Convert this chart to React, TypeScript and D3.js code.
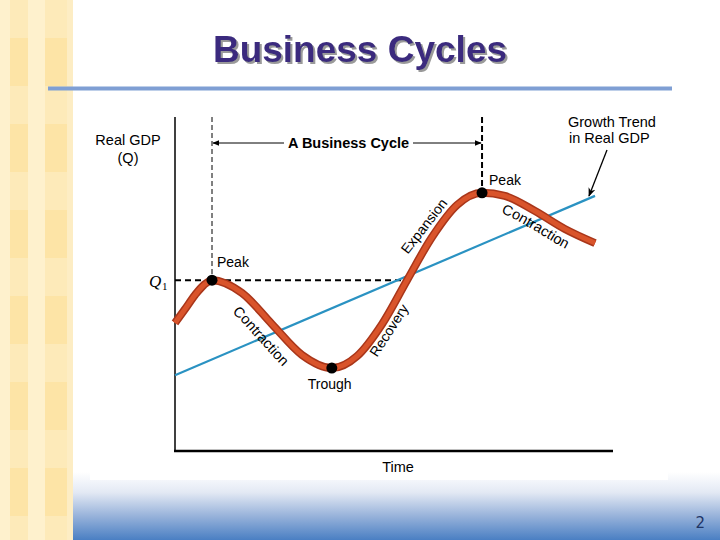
import React from "react";
import * as d3 from "d3";

// ---- Data (time units 0..100, real GDP units 0..100) ----
const curveT = [0, 2.28, 4.57, 6.62, 8.45, 15.3, 22.1, 29.0, 35.8, 41.6, 47.3, 52.95, 58.7, 64.4, 70.1, 75.3, 82.2, 89.0, 95.9];
const curveQ = [38.3, 42.4, 46.6, 49.6, 51.0, 47.2, 38.0, 28.8, 24.9, 28.5, 38.0, 50.9, 63.8, 73.3, 76.9, 76.0, 71.5, 66.2, 62.0];
const trendT = [0, 95.9];
const trendQ = [22.8, 76.0];
const turnLabels = ["Peak", "Trough", "Peak"];
const turnT = [8.45, 35.8, 70.1];
const turnQ = [51.0, 24.9, 76.9];
const q1Value = 51.0;
const q1CrossT = 52.9;

const W = 720, H = 540;
const FONT = "'Liberation Sans', Arial, sans-serif";

export default function App() {
  const x = d3.scaleLinear().domain([0, 100]).range([175, 613]);
  const y = d3.scaleLinear().domain([0, 100]).range([452, 115]);
  const pts = curveT.map((t, i) => ({ t, q: curveQ[i] }));
  const line = d3.line<{ t: number; q: number }>().x(d => x(d.t)).y(d => y(d.q)).curve(d3.curveMonotoneX);
  const cyclePath = line(pts) || "";
  const leftContr = line(pts.slice(4, 9)) || "";
  const rightContr = line(pts.slice(14)) || "";
  const trendPts = trendT.map((t, i) => ({ t, q: trendQ[i] }));
  const trendPath = d3.line<{ t: number; q: number }>().x(d => x(d.t)).y(d => y(d.q))(trendPts) || "";

  const rows = d3.range(0, 7);
  return (
    <svg width={W} height={H} style={{ position: "absolute", left: 0, top: 0, background: "#fff" }}>
      <defs>
        <linearGradient id="bottomGrad" x1="0" y1="0" x2="0" y2="1">
          <stop offset="0" stopColor="#ffffff" />
          <stop offset="0.3" stopColor="#e3e9f4" />
          <stop offset="0.65" stopColor="#97b2da" />
          <stop offset="1" stopColor="#4a7fc3" />
        </linearGradient>
        <filter id="shadow" x="-10%" y="-20%" width="120%" height="150%">
          <feDropShadow dx="2" dy="2" stdDeviation="0.4" floodColor="#9a9a9a" floodOpacity="1" />
        </filter>
        <marker id="arrowHead" viewBox="0 0 10 10" refX="9" refY="5" markerWidth="7" markerHeight="7" orient="auto-start-reverse" markerUnits="userSpaceOnUse">
          <path d="M0,1 L10,5 L0,9 z" fill="#000" />
        </marker>
        <marker id="arrowHead2" viewBox="0 0 10 10" refX="9" refY="5" markerWidth="9" markerHeight="9" orient="auto" markerUnits="userSpaceOnUse">
          <path d="M0,1 L10,5 L0,9 L3,5 z" fill="#000" />
        </marker>
        <path id="leftContrPath" d={leftContr} />
        <path id="rightContrPath" d={rightContr} />
      </defs>

      {/* left stripe */}
      <rect x={0} y={0} width={73} height={H} fill="#fef1cd" />
      <rect x={10} y={0} width={18} height={H} fill="#fdeab9" />
      <rect x={45} y={0} width={22} height={H} fill="#fdeab9" />
      {rows.map(r => (
        <g key={r}>
          <rect x={10} y={38 + r * 86} width={18} height={48} fill="#fde4a6" />
          <rect x={45} y={38 + r * 86} width={22} height={48} fill="#fde4a6" />
        </g>
      ))}
      <rect x={67} y={0} width={6} height={H} fill="#fdedc4" />

      {/* bottom gradient */}
      <rect x={73} y={472} width={W - 73} height={68} fill="url(#bottomGrad)" />
      <rect x={90} y={95} width={578} height={385} fill="#fff" />

      {/* title */}
      <text x={360} y={62} textAnchor="middle" fontFamily={FONT} fontWeight="bold" fontSize={37} fill="#3b2c7e" filter="url(#shadow)">Business Cycles</text>
      <rect x={48} y={86.5} width={624} height={4} fill="#7f9fd4" />

      {/* axes */}
      <line x1={175} y1={117} x2={175} y2={452} stroke="#000" strokeWidth={1.5} />
      <line x1={174} y1={451} x2={613} y2={451} stroke="#000" strokeWidth={2.5} />

      {/* dashed guides */}
      <line x1={x(turnT[0])} y1={117} x2={x(turnT[0])} y2={y(turnQ[0])} stroke="#000" strokeWidth={1} strokeDasharray="5,3" />
      <line x1={x(turnT[2])} y1={117} x2={x(turnT[2])} y2={y(turnQ[2])} stroke="#000" strokeWidth={2} strokeDasharray="6,3" />
      <line x1={x(0)} y1={y(q1Value)} x2={x(q1CrossT)} y2={y(q1Value)} stroke="#000" strokeWidth={2} strokeDasharray="6,4" />

      {/* business cycle span arrow */}
      <line x1={x(turnT[0]) + 1} y1={143} x2={284} y2={143} stroke="#000" strokeWidth={1} markerStart="url(#arrowHead)" />
      <line x1={413} y1={143} x2={x(turnT[2]) - 1} y2={143} stroke="#000" strokeWidth={1} markerEnd="url(#arrowHead)" />
      <text x={348.5} y={148} textAnchor="middle" fontFamily={FONT} fontWeight="bold" fontSize={14.5} fill="#000">A Business Cycle</text>

      {/* trend line */}
      <path d={trendPath} fill="none" stroke="#2a92c2" strokeWidth={2.2} />

      {/* cycle curve */}
      <path d={cyclePath} fill="none" stroke="#a9361a" strokeWidth={8} strokeLinecap="butt" />
      <path d={cyclePath} fill="none" stroke="#d9542b" strokeWidth={5} strokeLinecap="butt" />

      {/* turning points */}
      {turnT.map((t, i) => (
        <circle key={i} cx={x(t)} cy={y(turnQ[i])} r={5.5} fill="#000" />
      ))}

      {/* labels */}
      <g fontFamily={FONT} fontSize={14.5} fill="#000">
        <text x={128} y={145} textAnchor="middle">Real GDP</text>
        <text x={128} y={163} textAnchor="middle">(Q)</text>
        <text x={568} y={127}>Growth Trend</text>
        <text x={569} y={143}>in Real GDP</text>
        <text x={398} y={472} textAnchor="middle">Time</text>
        <text x={x(turnT[0]) + 5} y={y(turnQ[0]) - 13} fontSize={14}>{turnLabels[0]}</text>
        <text x={x(turnT[1]) - 24} y={y(turnQ[1]) + 21} fontSize={14}>{turnLabels[1]}</text>
        <text x={x(turnT[2]) + 7} y={y(turnQ[2]) - 8} fontSize={14}>{turnLabels[2]}</text>
        <text x={428} y={229} textAnchor="middle" fontSize={14} transform="rotate(-52 428 229)">Expansion</text>
        <text x={393} y={333} textAnchor="middle" fontSize={14} transform="rotate(-57 393 333)">Recovery</text>
        <text fontSize={14.5} transform="translate(-11 19)">
          <textPath href="#leftContrPath" startOffset={34}>Contraction</textPath>
        </text>
        <text fontSize={14.5} transform="translate(-3 18)">
          <textPath href="#rightContrPath" startOffset={22}>Contraction</textPath>
        </text>
      </g>
      <text x={149} y={287} fontFamily="'Liberation Serif', 'DejaVu Serif', serif" fontStyle="italic" fontSize={17}>Q</text>
      <text x={162} y={290} fontFamily="'Liberation Serif', 'DejaVu Serif', serif" fontSize={11}>1</text>

      {/* growth trend arrow */}
      <line x1={607} y1={150} x2={589} y2={196} stroke="#000" strokeWidth={1.3} markerEnd="url(#arrowHead2)" />

      {/* page number */}
      <text x={705} y={528} textAnchor="end" fontFamily="'DejaVu Sans', sans-serif" fontSize={15} fill="#1f3566">2</text>
    </svg>
  );
}
